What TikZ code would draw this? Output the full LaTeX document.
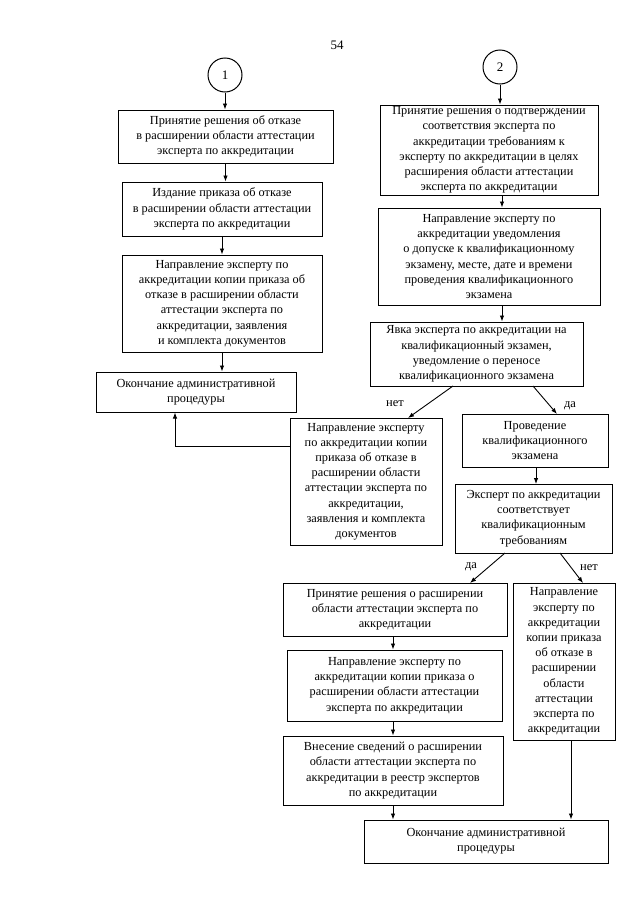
\documentclass[tikz,border=0pt]{standalone}
\usepackage{fontspec}
\setmainfont{Liberation Serif}
\usetikzlibrary{arrows.meta}
\begin{document}
\begin{tikzpicture}[x=1pt,y=-1pt,
  box/.style={draw, line width=1pt, align=center, inner sep=1pt,
    font=\fontsize{12.3}{15.2}\selectfont},
  circ/.style={draw, circle, line width=1pt, minimum size=34pt, inner sep=0pt,
    font=\fontsize{13}{15}\selectfont},
  arr/.style={line width=0.9pt, -{Latex[length=6pt,width=4.5pt]}},
  lbl/.style={font=\fontsize{12.5}{14}\selectfont, inner sep=0pt}]
\useasboundingbox (0,0) rectangle (640,905);
\fill[white] (0,0) rectangle (640,905);
\node[lbl, font=\fontsize{13}{15}\selectfont] (pg) at (337,45) {54};
% left column
\node[circ] (c1) at (225,75) {1};
\node[box, minimum width=215pt, minimum height=53pt] (b1) at (225.5,136.5)
 {Принятие решения об отказе\\в расширении области аттестации\\эксперта по аккредитации};
\node[box, minimum width=200pt, minimum height=54pt] (b2) at (222,209)
 {Издание приказа об отказе\\в расширении области аттестации\\эксперта по аккредитации};
\node[box, minimum width=200pt, minimum height=97pt] (b3) at (222,303.5)
 {Направление эксперту по\\аккредитации копии приказа об\\отказе в расширении области\\аттестации эксперта по\\аккредитации, заявления\\и комплекта документов};
\node[box, minimum width=200pt, minimum height=40pt] (b4) at (196,392)
 {Окончание административной\\процедуры};
% right column
\node[circ] (c2) at (500,67) {2};
\node[box, minimum width=218pt, minimum height=90pt] (r1) at (489,150)
 {Принятие решения о подтверждении\\соответствия эксперта по\\аккредитации требованиям к\\эксперту по аккредитации в целях\\расширения области аттестации\\эксперта по аккредитации};
\node[box, minimum width=222pt, minimum height=97pt] (r2) at (489,256.5)
 {Направление эксперту по\\аккредитации уведомления\\о допуске к квалификационному\\экзамену, месте, дате и времени\\проведения квалификационного\\экзамена};
\node[box, minimum width=213pt, minimum height=64pt] (r3) at (476.5,354)
 {Явка эксперта по аккредитации на\\квалификационный экзамен,\\уведомление о переносе\\квалификационного экзамена};
\node[box, minimum width=152pt, minimum height=127pt] (n1) at (366,481.5)
 {Направление эксперту\\по аккредитации копии\\приказа об отказе в\\расширении области\\аттестации эксперта по\\аккредитации,\\заявления и комплекта\\документов};
\node[box, minimum width=146pt, minimum height=53pt] (pr) at (535,440.5)
 {Проведение\\квалификационного\\экзамена};
\node[box, minimum width=157pt, minimum height=69pt] (ex) at (533.5,518.5)
 {Эксперт по аккредитации\\соответствует\\квалификационным\\требованиям};
\node[box, minimum width=224pt, minimum height=53pt] (d1) at (395,609.5)
 {Принятие решения о расширении\\области аттестации эксперта по\\аккредитации};
\node[box, minimum width=102pt, minimum height=157pt] (n2) at (564,661.5)
 {Направление\\эксперту по\\аккредитации\\копии приказа\\об отказе в\\расширении\\области\\аттестации\\эксперта по\\аккредитации};
\node[box, minimum width=215pt, minimum height=71pt] (d2) at (394.5,685.5)
 {Направление эксперту по\\аккредитации копии приказа о\\расширении области аттестации\\эксперта по аккредитации};
\node[box, minimum width=220pt, minimum height=69pt] (d3) at (393,770.5)
 {Внесение сведений о расширении\\области аттестации эксперта по\\аккредитации в реестр экспертов\\по аккредитации};
\node[box, minimum width=244pt, minimum height=43pt] (fin) at (486,841.5)
 {Окончание административной\\процедуры};
% connectors left
\draw[arr] (c1.south) -- (c1.south |- b1.north);
\draw[arr] (b1.south) -- (b1.south |- b2.north);
\draw[arr] (b2.south) -- (b2.south |- b3.north);
\draw[arr] (b3.south) -- (b3.south |- b4.north);
\coordinate (ret) at (175,446);
\draw[arr] (n1.west |- ret) -- (ret) -- (ret |- b4.south);
% connectors right
\coordinate (rx) at (502,0);
\draw[arr] (c2.south) -- (c2.south |- r1.north);
\draw[arr] (rx |- r1.south) -- (rx |- r2.north);
\draw[arr] (rx |- r2.south) -- (rx |- r3.north);
\coordinate (s1) at (453,386);
\coordinate (e1) at (408,418);
\draw[arr] (s1) -- (e1);
\node[lbl] (l1) at (395,404) {нет};
\coordinate (s2) at (533,386);
\coordinate (e2) at (557,414);
\draw[arr] (s2) -- (e2);
\node[lbl] (l2) at (570,406) {да};
\draw[arr] (536,467) -- (536,484);
\coordinate (s3) at (505,553);
\coordinate (e3) at (470,583);
\draw[arr] (s3) -- (e3);
\node[lbl] (l3) at (471,567) {да};
\coordinate (s4) at (560,553);
\coordinate (e4) at (583,583);
\draw[arr] (s4) -- (e4);
\node[lbl] (l4) at (589,568) {нет};
\coordinate (dx) at (393,0);
\draw[arr] (dx |- d1.south) -- (dx |- d2.north);
\draw[arr] (dx |- d2.south) -- (dx |- d3.north);
\draw[arr] (dx |- d3.south) -- (dx |- fin.north);
\coordinate (nx) at (571,0);
\draw[arr] (nx |- n2.south) -- (nx |- fin.north);
\end{tikzpicture}
\end{document}
